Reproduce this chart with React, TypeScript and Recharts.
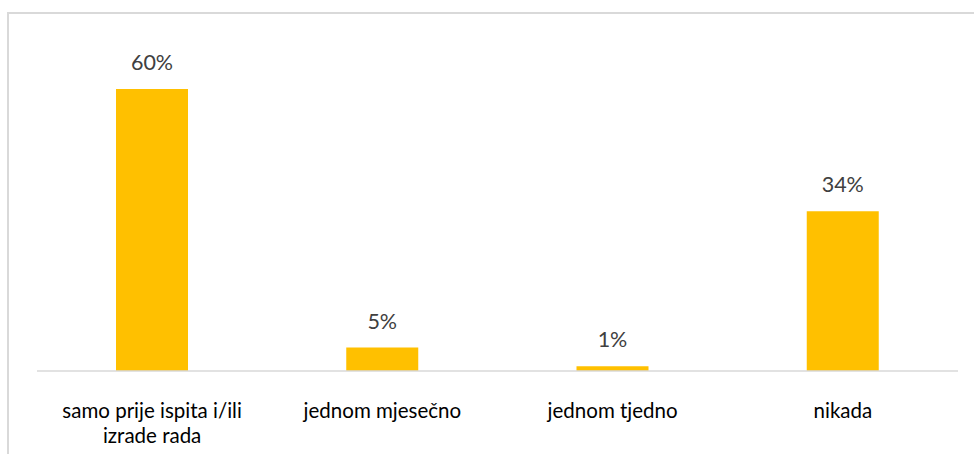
import React from "react";
import { BarChart, Bar, XAxis, YAxis, LabelList } from "recharts";

const categories = [
  "samo prije ispita i/ili izrade rada",
  "jednom mjesečno",
  "jednom tjedno",
  "nikada",
];
const percentages = [60, 5, 1, 34];

const chartData = categories.map((name, i) => ({ name, value: percentages[i] }));

const FONT = "Lato, 'Open Sans', sans-serif";

// break a label into lines of at most maxChars characters
function wrapWords(text: string, maxChars: number) {
  const lines: string[] = [];
  let cur = "";
  text.split(" ").forEach((w) => {
    const next = cur ? cur + " " + w : w;
    if (next.length > maxChars && cur) {
      lines.push(cur);
      cur = w;
    } else {
      cur = next;
    }
  });
  if (cur) lines.push(cur);
  return lines;
}

function CategoryTick(props: any) {
  const { x, y, payload } = props;
  const lines = wrapWords(String(payload.value), 24);
  return (
    <text
      x={x}
      y={y}
      textAnchor="middle"
      fontFamily={FONT}
      fontSize={20.5}
      fill="#000000"
    >
      {lines.map((line, i) => (
        <tspan key={i} x={x} y={y + 39 + i * 25}>
          {line}
        </tspan>
      ))}
    </text>
  );
}

function App() {
  return (
    <div
      style={{
        position: "absolute",
        left: 7,
        top: 12,
        width: 967,
        height: 442,
        borderLeft: "2px solid #d9d9d9",
        borderTop: "2px solid #d9d9d9",
        boxSizing: "border-box",
        background: "#fff",
      }}
    >
      <BarChart
        width={965}
        height={440}
        data={chartData}
        margin={{ top: 28, right: 16, left: 28, bottom: 0 }}
      >
        <XAxis
          dataKey="name"
          height={83}
          interval={0}
          tickLine={false}
          axisLine={{ stroke: "#d9d9d9", strokeWidth: 1.5 }}
          tick={<CategoryTick />}
        />
        <YAxis hide domain={[0, 70]} />
        <Bar dataKey="value" fill="#ffc000" barSize={72} isAnimationActive={false}>
          <LabelList
            dataKey="value"
            position="top"
            offset={19}
            formatter={(v: any) => `${v}%`}
            style={{ fontFamily: FONT, fontSize: 21.5, fill: "#404040" }}
          />
        </Bar>
      </BarChart>
    </div>
  );
}

export default App;
